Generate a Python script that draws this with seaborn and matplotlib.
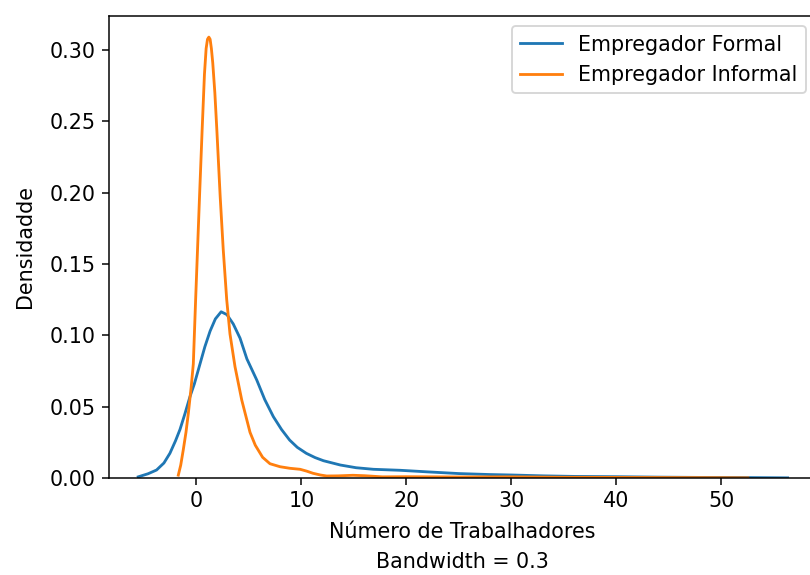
import matplotlib
matplotlib.use("Agg")
import matplotlib.pyplot as plt
import seaborn as sns
import pandas as pd

# Density curves (x = número de trabalhadores, y = densidade)
formal_x = [-5.55, -4.6, -3.8, -3.1, -2.53, -2.0, -1.57, -1.1, -0.62, -0.2, 0.3, 0.8,
            1.3, 1.8, 2.35, 2.9, 3.5, 4.15, 4.8, 5.74, 6.5, 7.32, 8.1, 8.87, 9.6, 10.46,
            11.3, 12.1, 13.7, 15.2, 16.85, 19.4, 22.0, 25.0, 28.0, 30.0, 33.0, 36.0,
            40.0, 44.0, 48.0, 52.0, 56.3]
formal_y = [0.0008, 0.003, 0.0056, 0.0105, 0.0173, 0.026, 0.034, 0.045, 0.057, 0.066,
            0.079, 0.092, 0.103, 0.1115, 0.1165, 0.1145, 0.108, 0.098, 0.0835, 0.0687,
            0.055, 0.043, 0.034, 0.0266, 0.0215, 0.0173, 0.0143, 0.0121, 0.0091, 0.0072,
            0.0061, 0.0054, 0.0043, 0.0031, 0.0024, 0.0021, 0.0015, 0.0011, 0.0009,
            0.0006, 0.0004, 0.0003, 0.0001]

informal_x = [-1.73, -1.5, -1.26, -1.0, -0.78, -0.5, -0.3, -0.08, 0.1, 0.29, 0.54, 0.76,
              0.92, 1.05, 1.18, 1.3, 1.42, 1.55, 1.75, 1.94, 2.26, 2.55, 2.88, 3.19,
              3.67, 4.31, 5.1, 5.6, 6.3, 7.0, 7.96, 8.9, 9.87, 10.5, 11.1, 11.8, 12.4,
              13.5, 14.9, 16.0, 17.7, 20.0, 25.0, 30.0, 35.0, 40.0, 45.0, 50.0, 52.5]
informal_y = [0.002, 0.009, 0.0196, 0.032, 0.045, 0.064, 0.080, 0.125, 0.160, 0.197,
              0.244, 0.283, 0.301, 0.3075, 0.309, 0.3075, 0.301, 0.291, 0.270, 0.244,
              0.197, 0.160, 0.125, 0.101, 0.078, 0.0547, 0.032, 0.023, 0.0145, 0.010,
              0.0079, 0.0068, 0.0061, 0.0048, 0.0033, 0.0021, 0.0014, 0.0015, 0.0019,
              0.0016, 0.0008, 0.0009, 0.0007, 0.0008, 0.0005, 0.0004, 0.0003, 0.0002,
              0.0001]

labels = ["Empregador Formal", "Empregador Informal"]

df = pd.concat([
    pd.DataFrame({"x": formal_x, "y": formal_y, "grupo": labels[0]}),
    pd.DataFrame({"x": informal_x, "y": informal_y, "grupo": labels[1]}),
], ignore_index=True)

plt.rcParams["font.family"] = ["DejaVu Sans"]
plt.rcParams["font.size"] = 11
fig = plt.figure(figsize=(6, 575 / 135), dpi=135)
ax = fig.add_axes([109 / 810, (575 - 478) / 575, (816 - 109) / 810, (478 - 16) / 575])

sns.lineplot(data=df, x="x", y="y", hue="grupo", hue_order=labels,
             palette=["#1f77b4", "#ff7f0e"], estimator=None, sort=False,
             linewidth=1.5, ax=ax)

ax.set_xlim(-8.33, 59.0)
ax.set_ylim(0, 0.3238)
ax.set_xticks([0, 10, 20, 30, 40, 50])
ax.set_yticks([0.0, 0.05, 0.10, 0.15, 0.20, 0.25, 0.30])
ax.set_yticklabels(["0.00", "0.05", "0.10", "0.15", "0.20", "0.25", "0.30"])
ax.tick_params(labelsize=11)
ax.set_xlabel("Número de Trabalhadores\nBandwidth = 0.3", fontsize=11,
              linespacing=1.6, labelpad=6)
ax.set_ylabel("Densidadde", fontsize=11, labelpad=8)
ax.legend(loc="upper right", title=None, fontsize=11)

fig.savefig("out.png", dpi=135, facecolor="white")
